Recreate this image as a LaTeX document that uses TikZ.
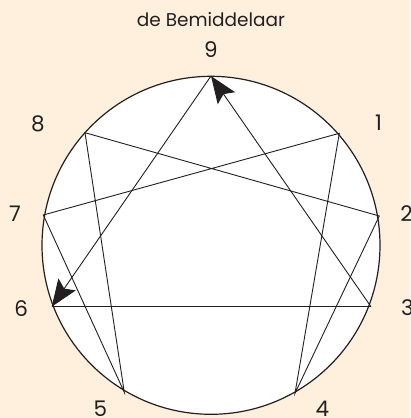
\documentclass[tikz,border=0pt]{standalone}
\usepackage{fontspec}
\setmainfont{Poppins}
\usetikzlibrary{arrows.meta}
\definecolor{bg}{RGB}{254,240,221}
\definecolor{ink}{RGB}{35,31,32}
\begin{document}
\begin{tikzpicture}[x=1pt,y=-1pt,
  lbl/.style={inner sep=0pt,font=\fontsize{21.5}{23}\selectfont,text=ink},
  chord/.style={line width=0.9pt,ink},
  arr/.style={chord,-{Stealth[length=27pt,width=21pt,inset=5pt]}}]
\fill[bg] (0,0) rectangle (410,418);
\useasboundingbox (0,0) rectangle (410,418);
\node[circle,draw=ink,fill=white,line width=1.2pt,minimum size=338pt,inner sep=0pt] (c) at (211,245.3) {};
\coordinate (p9) at (211,76);
\coordinate (p1) at (339.3,133.3);
\coordinate (p2) at (379.3,216);
\coordinate (p3) at (371,306.7);
\coordinate (p4) at (295,393.3);
\coordinate (p5) at (124.3,392.3);
\coordinate (p6) at (51.7,306.7);
\coordinate (p7) at (43.3,215);
\coordinate (p8) at (85,132.7);
\draw[chord] (p1) -- (p4) -- (p2) -- (p8) -- (p5) -- (p7) -- cycle;
\draw[chord] (p6) -- (p3);
\draw[arr] (p3) -- (p9);
\draw[arr] (p9) -- (p6);
\node[lbl,font=\fontsize{18.5}{20}\selectfont] (t) at (211,19.7) {de Bemiddelaar};
\node[lbl] (l9) at (211,50) {9};
\node[lbl] (l1) at (378.5,123) {1};
\node[lbl] (l2) at (406.5,214) {2};
\node[lbl] (l3) at (407.5,307.5) {3};
\node[lbl] (l4) at (322.5,408.5) {4};
\node[lbl] (l5) at (100.5,408.5) {5};
\node[lbl] (l6) at (21.3,309) {6};
\node[lbl] (l7) at (15,214) {7};
\node[lbl] (l8) at (38,123.5) {8};
\end{tikzpicture}
\end{document}
